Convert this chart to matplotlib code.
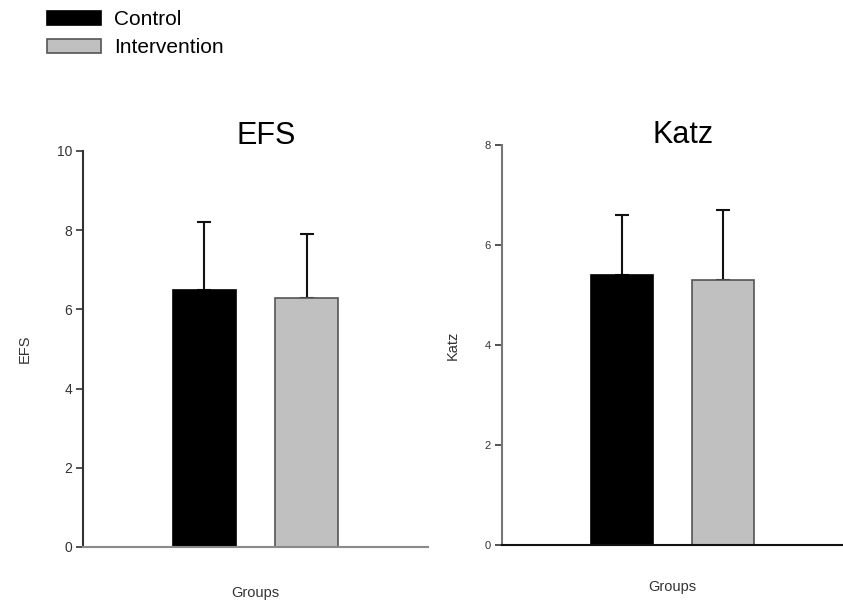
import matplotlib
matplotlib.use("Agg")
import matplotlib.pyplot as plt
from matplotlib.patches import Patch

plt.rcParams['font.family'] = ['Liberation Sans', 'DejaVu Sans']

# --- Data ---
groups = ["Control", "Intervention"]
efs_mean = [6.5, 6.3]
efs_sd = [1.7, 1.6]
katz_mean = [5.4, 5.3]
katz_sd = [1.2, 1.4]

bar_colors = ["#000000", "#c0c0c0"]
edge_colors = ["#000000", "#555555"]
pos = [1, 2]

fig = plt.figure(figsize=(8.43, 6.05), dpi=100)

# axes placed in figure pixels (843 x 605)
ax1 = fig.add_axes([83 / 843, 58 / 605, 345 / 843, 396 / 605])
ax2 = fig.add_axes([502 / 843, 60 / 605, 341 / 843, 400 / 605])


def draw_panel(ax, means, sds, ymax, title, ylabel, tick_fs, xspine, yspine,
               labelpad, ylabelpad, title_pad):
    for i in range(len(groups)):
        ax.bar(pos[i], means[i], width=0.61, color=bar_colors[i],
               edgecolor=edge_colors[i], linewidth=1.2, zorder=2)
        ax.errorbar(pos[i], means[i], yerr=[[0], [sds[i]]], fmt='none',
                    ecolor="#111111", elinewidth=1.5, capsize=4.7, capthick=1.5, zorder=1)
    ax.set_xlim(-0.19, 3.19)
    ax.set_ylim(0, ymax)
    ax.set_yticks(range(0, ymax + 1, 2))
    ax.set_xticks([])
    ax.tick_params(axis='y', direction='out', length=5, width=1.2, pad=3,
                   labelsize=tick_fs, colors="#333333")
    for s in ["top", "right"]:
        ax.spines[s].set_visible(False)
    ax.spines["left"].set_color(yspine)
    ax.spines["bottom"].set_color(xspine)
    ax.spines["left"].set_linewidth(1.5)
    ax.spines["bottom"].set_linewidth(1.5)
    ax.set_title(title, fontsize=22, y=1.0, pad=title_pad, x=0.53)
    ax.set_ylabel(ylabel, fontsize=10.5, color="#333333", labelpad=ylabelpad)
    ax.set_xlabel("Groups", fontsize=10.5, color="#333333", labelpad=labelpad)


draw_panel(ax1, efs_mean, efs_sd, 10, "EFS", "EFS", 10, "#8a8a8a", "#333333", 28, 18, 5)
draw_panel(ax2, katz_mean, katz_sd, 8, "Katz", "Katz", 8, "#111111", "#777777", 25, 18, 1.5)

handles = [Patch(facecolor=bar_colors[i], edgecolor=edge_colors[i], linewidth=1.2)
           for i in range(len(groups))]
fig.legend(handles, groups, loc="upper left", bbox_to_anchor=(47 / 843, 1 - 10 / 605),
           frameon=False, fontsize=15, handlelength=2.6, handleheight=0.65,
           handletextpad=0.6, labelspacing=0.45, borderpad=0, borderaxespad=0)

fig.savefig("out.png", dpi=100)
